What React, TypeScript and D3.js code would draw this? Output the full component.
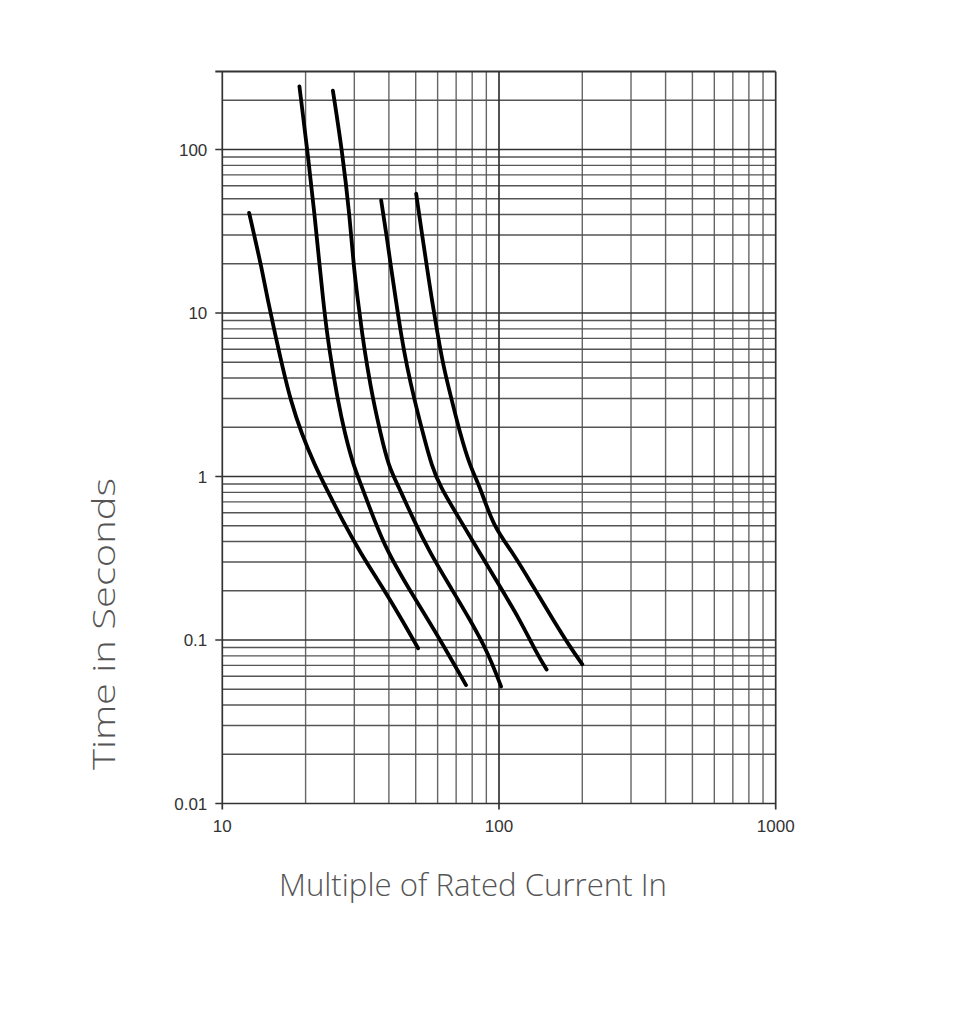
import React from "react";
import * as d3 from "d3";

// Time-current characteristic curves: [multiple of rated current, time in seconds]
const curveA: [number, number][] = [
  [12.5, 41], [13.0, 30.6], [13.85, 19.1], [14.6, 12.0], [15.5, 7.5], [16.5, 4.68],
  [17.65, 2.93], [19.3, 1.84], [21.7, 1.15], [23.6, 0.866], [27.1, 0.543],
  [31.6, 0.34], [37.8, 0.212], [44.6, 0.133], [51, 0.089],
];
const curveB: [number, number][] = [
  [19.0, 243], [20.3, 98.6], [21.6, 38.6], [22.5, 19.1], [23.15, 12.0], [23.9, 7.5],
  [24.95, 4.68], [26.15, 2.93], [27.7, 1.84], [29.85, 1.15], [32.0, 0.866],
  [38.3, 0.373], [49.1, 0.185], [60.4, 0.105], [76, 0.053],
];
const curveC: [number, number][] = [
  [25.1, 229], [27.1, 98.6], [28.9, 38.6], [29.85, 19.1], [30.9, 12.0], [32.0, 7.5],
  [33.4, 4.68], [35.1, 2.93], [37.3, 1.84], [39.9, 1.15], [43.4, 0.866], [49.1, 0.543],
  [56.4, 0.34], [66.6, 0.212], [78.6, 0.133], [91.5, 0.083], [101.7, 0.052],
];
const curveD: [number, number][] = [
  [37.5, 48.9], [39.15, 30.6], [40.7, 19.1], [42.4, 12.0], [44.2, 7.5], [46.5, 4.68],
  [49.5, 2.93], [53.1, 1.84], [57.2, 1.15], [61.3, 0.866], [72.3, 0.543], [85.4, 0.34],
  [100.8, 0.212], [119, 0.133], [136.8, 0.083], [148.6, 0.066],
];
const curveE: [number, number][] = [
  [50.2, 53.6], [52.65, 30.6], [54.9, 19.1], [57.2, 12.0], [59.95, 7.5], [63.0, 4.68],
  [67.5, 2.93], [72.3, 1.84], [78.6, 1.15], [85.4, 0.866], [95.4, 0.494], [112.6, 0.34],
  [132.9, 0.212], [156.9, 0.133], [180.3, 0.091], [200, 0.071],
];
const curves = [curveA, curveB, curveC, curveD, curveE];

const xMajorTicks = [10, 100, 1000];
const xTickLabels = ["10", "100", "1000"];
const yMajorTicks = [0.01, 0.1, 1, 10, 100];
const yTickLabels = ["0.01", "0.1", "1", "10", "100"];
const minorMultipliers = [2, 3, 4, 5, 6, 7, 8, 9];

const xDomain: [number, number] = [10, 1000];
const yDomain: [number, number] = [0.01, 300];

export default function App() {
  const W = 980;
  const H = 1013;
  const left = 222.3;
  const right = 775.7;
  const y0 = 803.5; // position of 0.01
  const decade = 163.5;

  const x = d3.scaleLog().domain(xDomain).range([left, right]);
  const y = d3
    .scaleLog()
    .domain(yDomain)
    .range([y0, y0 - (Math.log10(yDomain[1]) - Math.log10(yDomain[0])) * decade]);

  const top = y(yDomain[1]);
  const bottom = y(yDomain[0]);

  // minor grid values
  const xMinor: number[] = [];
  [10, 100].forEach((d) => minorMultipliers.forEach((m) => xMinor.push(d * m)));
  const yMinor: number[] = [];
  [0.01, 0.1, 1, 10, 100].forEach((d) =>
    minorMultipliers.forEach((m) => {
      const v = d * m;
      if (v < yDomain[1] - 1e-9) yMinor.push(v);
    })
  );

  const line = d3
    .line<[number, number]>()
    .x((d) => x(d[0]))
    .y((d) => y(d[1]))
    .curve(d3.curveBasis);

  const tickFont = "'Liberation Sans', Arial, sans-serif";
  const titleFont = "'Open Sans', 'Noto Sans', sans-serif";

  return (
    <svg
      width={W}
      height={H}
      style={{ position: "absolute", left: 0, top: 0, background: "#fff" }}
    >
      <rect x={0} y={0} width={W} height={H} fill="#fff" />
      {/* minor vertical grid */}
      {xMinor.map((v) => (
        <line key={"xm" + v} x1={x(v)} x2={x(v)} y1={top} y2={bottom} stroke="#666" strokeWidth={1.4} />
      ))}
      {/* minor horizontal grid */}
      {yMinor.map((v) => (
        <line key={"ym" + v} x1={left} x2={right} y1={y(v)} y2={y(v)} stroke="#555" strokeWidth={1.4} />
      ))}
      {/* major vertical grid with ticks below */}
      {xMajorTicks.map((v) => (
        <line key={"xM" + v} x1={x(v)} x2={x(v)} y1={top} y2={bottom + 6} stroke="#333" strokeWidth={1.7} />
      ))}
      {/* major horizontal grid with ticks left */}
      {yMajorTicks.map((v) => (
        <line key={"yM" + v} x1={left - 7} x2={right} y1={y(v)} y2={y(v)} stroke="#333" strokeWidth={1.7} />
      ))}
      {/* top border */}
      <line x1={left - 7} x2={right} y1={top} y2={top} stroke="#333" strokeWidth={1.8} />

      {/* curves */}
      {curves.map((c, i) => (
        <path key={"c" + i} d={line(c) || ""} fill="none" stroke="#000" strokeWidth={3.8} strokeLinecap="round" strokeLinejoin="round" />
      ))}

      {/* y tick labels */}
      {yMajorTicks.map((v, i) => (
        <text
          key={"yl" + v}
          x={left - 15}
          y={y(v)}
          dy="0.36em"
          textAnchor="end"
          fontFamily={tickFont}
          fontSize={17}
          fill="#333"
        >
          {yTickLabels[i]}
        </text>
      ))}
      {/* x tick labels */}
      {xMajorTicks.map((v, i) => (
        <text
          key={"xl" + v}
          x={x(v)}
          y={bottom + 28}
          textAnchor="middle"
          fontFamily={tickFont}
          fontSize={17}
          fill="#333"
        >
          {xTickLabels[i]}
        </text>
      ))}

      {/* axis titles */}
      <text
        x={473}
        y={896}
        textAnchor="middle"
        fontFamily={titleFont}
        fontWeight={300}
        fontSize={32}
        fill="#555"
        textLength={388}
        lengthAdjust="spacingAndGlyphs"
      >
        Multiple of Rated Current In
      </text>
      <text
        transform="translate(115,624) rotate(-90)"
        textAnchor="middle"
        fontFamily={titleFont}
        fontWeight={300}
        fontSize={32}
        fill="#555"
        textLength={292}
        lengthAdjust="spacingAndGlyphs"
      >
        Time in Seconds
      </text>
    </svg>
  );
}
